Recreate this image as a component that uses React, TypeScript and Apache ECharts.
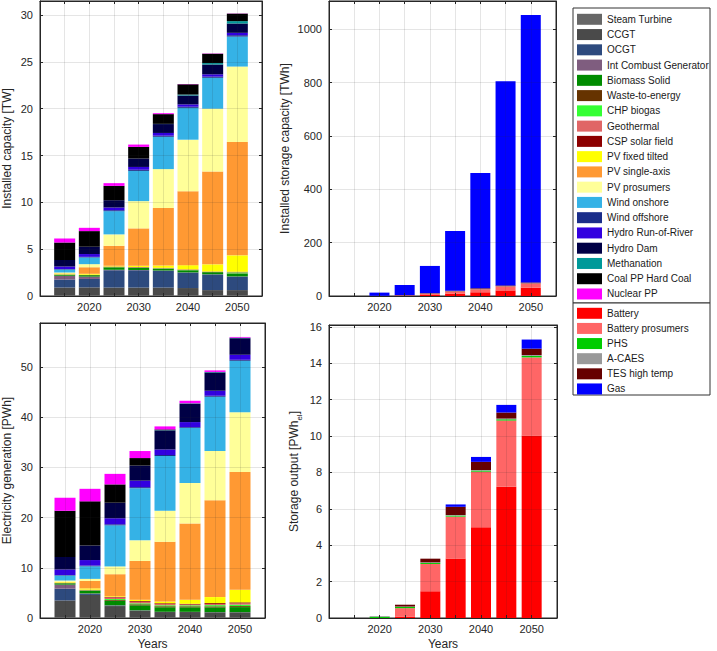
import { useEffect, useRef } from 'react';
import * as echarts from 'echarts';

const FONT = '"Liberation Sans", Arial, Helvetica, sans-serif';
const TEXT = '#262626';

const years = [2015, 2020, 2025, 2030, 2035, 2040, 2045, 2050];
const axisYears = [2010, 2015, 2020, 2025, 2030, 2035, 2040, 2045, 2050, 2055];
const labelYears = [2020, 2030, 2040, 2050];

const genNames = [
  'Steam Turbine', 'CCGT', 'OCGT', 'Int Combust Generator', 'Biomass Solid', 'Waste-to-energy',
  'CHP biogas', 'Geothermal', 'CSP solar field', 'PV fixed tilted', 'PV single-axis', 'PV prosumers',
  'Wind onshore', 'Wind offshore', 'Hydro Run-of-River', 'Hydro Dam', 'Methanation', 'Coal PP Hard Coal', 'Nuclear PP',
];
const genColors = [
  '#676767', '#4a4a4a', '#2d4a7e', '#7f5d7f', '#008c00', '#663300',
  '#33ff33', '#e06666', '#8c0000', '#ffff00', '#ff9933', '#ffff99',
  '#35b2e6', '#1a2d8a', '#3300e0', '#000045', '#009999', '#000000', '#ff00ff',
];
const storNames = ['Battery', 'Battery prosumers', 'PHS', 'A-CAES', 'TES high temp', 'Gas'];
const storColors = ['#ff0000', '#ff6666', '#00cc00', '#999999', '#660000', '#0000ff'];

// Installed capacity [TW]
const capSteamTurbine = [0.1, 0.1, 0.1, 0.1, 0.1, 0.1, 0.1, 0.1];
const capCCGT = [0.8, 0.82, 0.8, 0.8, 0.8, 0.75, 0.53, 0.53];
const capOCGT = [0.85, 0.9, 1.85, 1.85, 1.8, 1.65, 1.67, 1.44];
const capICG = [0.4, 0.25, 0.05, 0.03, 0.02, 0.02, 0.02, 0.02];
const capBiomass = [0.1, 0.15, 0.25, 0.22, 0.2, 0.22, 0.22, 0.3];
const capWaste = [0.02, 0.02, 0.03, 0.03, 0.02, 0.02, 0.02, 0.03];
const capCHP = [0.02, 0.01, 0.02, 0.02, 0.02, 0.02, 0.02, 0.1];
const capGeothermal = [0.03, 0.02, 0.03, 0.03, 0.03, 0.03, 0.02, 0.03];
const capCSP = [0, 0, 0.02, 0.02, 0.02, 0.03, 0.02, 0.04];
const capPVfixed = [0.08, 0.1, 0.08, 0.13, 0.24, 0.45, 0.76, 1.75];
const capPVsingle = [0.02, 0.7, 2.13, 3.99, 6.15, 7.9, 9.92, 12.11];
const capPVprosumers = [0.1, 0.33, 1.22, 2.91, 4.15, 5.5, 6.7, 8.05];
const capWindOn = [0.3, 0.72, 2.48, 3.23, 3.45, 3.4, 3.3, 3.2];
const capWindOff = [0.05, 0.06, 0.1, 0.12, 0.12, 0.12, 0.12, 0.15];
const capHydroRoR = [0.28, 0.3, 0.29, 0.3, 0.29, 0.25, 0.25, 0.25];
const capHydroDam = [0.7, 0.78, 0.78, 0.9, 0.95, 0.95, 1.05, 1.0];
const capMethanation = [0, 0, 0, 0, 0.02, 0.1, 0.15, 0.25];
const capCoal = [1.87, 1.67, 1.53, 1.24, 1.04, 1.1, 1.0, 0.8];
const capNuclear = [0.43, 0.35, 0.29, 0.25, 0.1, 0.03, 0.03, 0.02];

// Electricity generation [PWh]
const genSteamTurbine = [0.2, 0.2, 0.1, 0.1, 0.1, 0.1, 0.1, 0.1];
const genCCGT = [3.3, 4.4, 2.28, 1.36, 1.09, 1.09, 1.03, 1.03];
const genOCGT = [2.35, 0.2, 0.1, 0.05, 0.03, 0.02, 0.02, 0.02];
const genICG = [0.8, 0.1, 0.05, 0.02, 0.02, 0.02, 0.02, 0.02];
const genBiomass = [0.25, 0.5, 0.9, 1.0, 0.9, 0.9, 0.95, 1.0];
const genWaste = [0.05, 0.1, 0.15, 0.2, 0.2, 0.2, 0.2, 0.2];
const genCHP = [0.02, 0.05, 0.2, 0.2, 0.2, 0.2, 0.25, 0.3];
const genGeothermal = [0.08, 0.1, 0.3, 0.3, 0.25, 0.15, 0.2, 0.25];
const genCSP = [0, 0, 0.1, 0.15, 0.15, 0.15, 0.2, 0.2];
const genPVfixed = [0.15, 0.25, 0.15, 0.25, 0.35, 0.8, 1.2, 2.5];
const genPVsingle = [0.02, 1.5, 4.4, 7.75, 11.9, 15.22, 19.3, 23.5];
const genPVprosumers = [0.25, 0.4, 1.55, 4.1, 6.2, 8.05, 9.8, 11.9];
const genWindOn = [1.0, 2.5, 8.2, 10.4, 10.9, 11.0, 10.83, 10.25];
const genWindOff = [0.1, 0.15, 0.2, 0.2, 0.2, 0.15, 0.2, 0.2];
const genHydroRoR = [1.1, 1.1, 1.2, 1.3, 1.1, 1.0, 1.0, 1.0];
const genHydroDam = [2.5, 2.9, 3.1, 3.0, 3.8, 3.6, 3.65, 3.3];
const genMethanation = [0, 0, 0, 0, 0.05, 0.1, 0.1, 0.1];
const genCoal = [9.2, 8.8, 3.65, 1.5, 0.15, 0.05, 0, 0];
const genNuclear = [2.6, 2.5, 2.1, 1.4, 0.6, 0.5, 0.3, 0.15];

// Installed storage capacity [TWh]
const scBattery = [0, 0.3, 1, 4, 9, 14, 21, 31];
const scBatteryPros = [0, 0.2, 1.5, 5, 8, 11, 15, 16];
const scPHS = [0, 0.2, 0.2, 0.2, 0.2, 0.2, 0.2, 0.2];
const scACAES = [0, 0, 0, 0, 0.5, 0.5, 0.5, 0.5];
const scTES = [0, 0, 0.5, 1.5, 2, 3, 3, 3];
const scGas = [0, 12, 38, 102, 224, 432, 765, 1003];

// Storage output [PWh_el]
const soBattery = [0, 0, 0.08, 1.47, 3.27, 4.99, 7.21, 10.03];
const soBatteryPros = [0, 0, 0.46, 1.5, 2.3, 3.05, 3.64, 4.29];
const soPHS = [0, 0.07, 0.07, 0.06, 0.06, 0.06, 0.07, 0.08];
const soACAES = [0, 0.04, 0.02, 0.03, 0.03, 0.03, 0.04, 0.05];
const soTES = [0, 0, 0.1, 0.2, 0.45, 0.45, 0.33, 0.35];
const soGas = [0, 0, 0, 0, 0.13, 0.27, 0.42, 0.5];

const capacityData = [
  capSteamTurbine, capCCGT, capOCGT, capICG, capBiomass, capWaste, capCHP, capGeothermal, capCSP,
  capPVfixed, capPVsingle, capPVprosumers, capWindOn, capWindOff, capHydroRoR, capHydroDam,
  capMethanation, capCoal, capNuclear,
];
const generationData = [
  genSteamTurbine, genCCGT, genOCGT, genICG, genBiomass, genWaste, genCHP, genGeothermal, genCSP,
  genPVfixed, genPVsingle, genPVprosumers, genWindOn, genWindOff, genHydroRoR, genHydroDam,
  genMethanation, genCoal, genNuclear,
];
const storageCapData = [scBattery, scBatteryPros, scPHS, scACAES, scTES, scGas];
const storageOutData = [soBattery, soBatteryPros, soPHS, soACAES, soTES, soGas];

// panel settings: grid boxes (px) and y axis limits
const grids = [
  { left: 37, top: 1, width: 225, height: 295 },
  { left: 329, top: 1, width: 227, height: 295 },
  { left: 37, top: 323, width: 228, height: 297 },
  { left: 329, top: 325, width: 228, height: 295 },
];
const yMax = [31.5, 1106, 58.8, 16.1];
const yInterval = [5, 200, 10, 2];
const yNames = [
  'Installed capacity [TW]',
  'Installed storage capacity [TWh]',
  'Electricity generation [PWh]',
  '{n|Storage output [PWh}{s|el}{n|]}',
];
const yNameGap = [27, 38, 27, 26];
const barWidths = [21, 20, 21, 20];

function buildOption() {
  const cats = axisYears.map(String);
  const xAxes: any[] = [];
  const yAxes: any[] = [];
  grids.forEach((_, g) => {
    xAxes.push({
      type: 'category', gridIndex: g, data: cats, boundaryGap: false, position: 'bottom', z: 3,
      axisLine: { show: true, onZero: false, lineStyle: { color: TEXT, width: 1 } },
      axisTick: { show: true, inside: true, length: 3, interval: 0, lineStyle: { color: TEXT } },
      axisLabel: {
        interval: 0, fontFamily: FONT, fontSize: 11, color: TEXT, margin: 5,
        formatter: (v: string) => (labelYears.includes(Number(v)) ? v : ''),
      },
      splitLine: { show: true, interval: 0, lineStyle: { color: 'rgba(38,38,38,0.12)', width: 1 } },
      name: g >= 2 ? 'Years' : '', nameLocation: 'middle', nameGap: 20,
      nameTextStyle: { fontFamily: FONT, fontSize: 12, color: TEXT },
    });
    yAxes.push({
      type: 'value', gridIndex: g, min: 0, max: yMax[g], interval: yInterval[g], position: 'left', z: 3,
      axisLine: { show: true, onZero: false, lineStyle: { color: TEXT, width: 1 } },
      axisTick: { show: true, inside: true, length: 3, lineStyle: { color: TEXT } },
      axisLabel: {
        fontFamily: FONT, fontSize: 11, color: TEXT, margin: 7,
        formatter: (v: number) => {
          const k = v / yInterval[g];
          return Math.abs(k - Math.round(k)) < 1e-6 ? String(v) : '';
        },
      },
      splitLine: { show: true, lineStyle: { color: 'rgba(38,38,38,0.12)', width: 1 } },
      name: yNames[g], nameLocation: 'middle', nameGap: yNameGap[g],
      nameTextStyle: {
        fontFamily: FONT, fontSize: 12, color: TEXT,
        rich: {
          n: { fontFamily: FONT, fontSize: 12, color: TEXT, lineHeight: 18, verticalAlign: 'middle' },
          s: { fontFamily: FONT, fontSize: 8, color: TEXT, lineHeight: 8, verticalAlign: 'bottom' },
        },
      },
    });
  });
  grids.forEach((_, g) => {
    xAxes.push({
      type: 'category', gridIndex: g, data: cats, boundaryGap: false, position: 'top', z: 3,
      axisLine: { show: true, onZero: false, lineStyle: { color: TEXT, width: 1 } },
      axisTick: { show: true, inside: true, length: 3, interval: 0, lineStyle: { color: TEXT } },
      axisLabel: { show: false }, splitLine: { show: false },
    });
    yAxes.push({
      type: 'value', gridIndex: g, min: 0, max: yMax[g], interval: yInterval[g], position: 'right', z: 3,
      axisLine: { show: true, onZero: false, lineStyle: { color: TEXT, width: 1 } },
      axisTick: { show: true, inside: true, length: 3, lineStyle: { color: TEXT } },
      axisLabel: { show: false }, splitLine: { show: false },
    });
  });

  const makeSeries = (names: string[], colors: string[], values: number[][], g: number) =>
    names.map((n, i) => ({
      type: 'bar', name: n, stack: 'panel' + g, xAxisIndex: g, yAxisIndex: g,
      barWidth: barWidths[g], silent: true,
      itemStyle: { color: colors[i] },
      data: axisYears.map((yr) => {
        const j = years.indexOf(yr);
        return j < 0 ? '-' : values[i][j];
      }),
    }));

  const series = [
    ...makeSeries(genNames, genColors, capacityData, 0),
    ...makeSeries(storNames, storColors, storageCapData, 1),
    ...makeSeries(genNames, genColors, generationData, 2),
    ...makeSeries(storNames, storColors, storageOutData, 3),
  ];

  // legend drawn as graphic elements
  const graphic: any[] = [];
  const box1 = { x: 573, y: 8, w: 137, h: 295 };
  const box2 = { x: 573, y: 303, w: 137, h: 92 };
  graphic.push({ type: 'rect', shape: { x: box1.x, y: box1.y, width: box1.w, height: box1.h }, style: { fill: '#fff', stroke: '#333', lineWidth: 1 } });
  graphic.push({ type: 'rect', shape: { x: box2.x, y: box2.y, width: box2.w, height: box2.h }, style: { fill: '#fff', stroke: '#333', lineWidth: 1 } });
  const addItems = (names: string[], colors: string[], y0: number, step: number) => {
    names.forEach((n, i) => {
      const cy = y0 + i * step;
      graphic.push({ type: 'rect', shape: { x: 577, y: cy - 5.5, width: 25, height: 11 }, style: { fill: colors[i] } });
      graphic.push({
        type: 'text', x: 607, y: cy,
        style: { text: n, fontFamily: FONT, fontSize: 10, fill: '#1a1a1a', verticalAlign: 'middle', align: 'left' },
      });
    });
  };
  addItems(genNames, genColors, 19.3, 15.26);
  addItems(storNames, storColors, 313.3, 15.13);

  return {
    animation: false,
    backgroundColor: '#ffffff',
    grid: grids.map((b) => ({ ...b, show: true, borderColor: TEXT, borderWidth: 1, backgroundColor: 'transparent' })),
    xAxis: xAxes,
    yAxis: yAxes,
    series,
    graphic,
  };
}

export default function App() {
  const ref = useRef<HTMLDivElement>(null);
  useEffect(() => {
    if (!ref.current) return;
    const chart = echarts.init(ref.current, null, { renderer: 'svg' });
    chart.setOption(buildOption() as any);
    return () => chart.dispose();
  }, []);
  return (
    <div
      ref={ref}
      style={{ position: 'absolute', left: 0, top: 0, width: 717, height: 651, background: '#fff' }}
    />
  );
}
